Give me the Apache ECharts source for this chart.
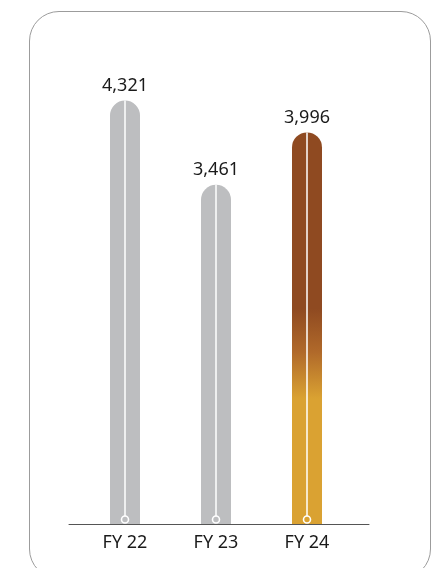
<!DOCTYPE html>
<html>
<head>
<meta charset="utf-8">
<script src="https://cdn.jsdelivr.net/npm/echarts@6/dist/echarts.min.js"></script>
<style>
  html, body { margin: 0; padding: 0; background: #fff; }
  #frame { position: absolute; left: 29px; top: 11px; width: 400px; height: 566px;
           border: 1px solid #9c9c9c; border-radius: 30px; box-sizing: content-box; }
  #chart { position: absolute; left: 0; top: 0; width: 441px; height: 568px; }
</style>
</head>
<body>
<div id="frame"></div>
<div id="chart"></div>
<script>
const categories = ['FY 22', 'FY 23', 'FY 24'];
const values = [4321, 3461, 3996];
const valueLabels = ['4,321', '3,461', '3,996'];

const GREY = '#BDBEC0';
const BROWN = '#8F4A21';
const GOLD = '#DAA232';
const FONT = '"Noto Sans", sans-serif';

const chart = echarts.init(document.getElementById('chart'), null, { renderer: 'canvas' });

const barData = values.map((v, i) => ({
  value: v,
  itemStyle: {
    color: i === 2
      ? new echarts.graphic.LinearGradient(0, 0, 0, 1, [
          { offset: 0, color: BROWN },
          { offset: 0.45, color: BROWN },
          { offset: 0.56, color: '#B0692A' },
          { offset: 0.68, color: GOLD },
          { offset: 1, color: GOLD }
        ])
      : GREY
  }
}));

chart.setOption({
  animation: false,
  grid: [
    { left: 79.5, width: 273, top: 34, bottom: 44 },
    { left: 69, width: 300, top: 34, bottom: 44 }
  ],
  xAxis: [
    {
      type: 'category', gridIndex: 0, data: categories,
      axisLine: { show: false }, axisTick: { show: false },
      axisLabel: { color: '#1a1a1a', fontFamily: FONT, fontSize: 18, margin: 10 }
    },
    {
      type: 'value', gridIndex: 1, min: 0, max: 1,
      axisLine: { show: true, onZero: false, lineStyle: { color: '#555', width: 1 } },
      axisTick: { show: false }, axisLabel: { show: false }, splitLine: { show: false }
    }
  ],
  yAxis: [
    { type: 'value', gridIndex: 0, min: 0, max: 5000, show: false, splitLine: { show: false } },
    { type: 'value', gridIndex: 1, min: 0, max: 1, show: false, splitLine: { show: false } }
  ],
  series: [
    {
      type: 'bar', xAxisIndex: 0, yAxisIndex: 0,
      data: barData, barWidth: 30,
      itemStyle: { borderRadius: [15, 15, 0, 0] },
      label: {
        show: true, position: 'top', distance: 6,
        color: '#1a1a1a', fontFamily: FONT, fontSize: 18,
        formatter: p => valueLabels[p.dataIndex]
      }
    },
    {
      type: 'custom', xAxisIndex: 0, yAxisIndex: 0,
      data: values.map((v, i) => [i, v]),
      z: 5,
      renderItem(params, api) {
        const top = api.coord([api.value(0), api.value(1)]);
        const base = api.coord([api.value(0), 0]);
        const cy = base[1] - 4.5;
        return {
          type: 'group',
          children: [
            { type: 'line', shape: { x1: top[0], y1: top[1], x2: top[0], y2: cy - 3.5 },
              style: { stroke: '#ffffff', lineWidth: 1.5 } },
            { type: 'circle', shape: { cx: base[0], cy: cy, r: 3.5 },
              style: { fill: 'transparent', stroke: '#ffffff', lineWidth: 1.6 } }
          ]
        };
      }
    }
  ]
});
</script>
</body>
</html>
